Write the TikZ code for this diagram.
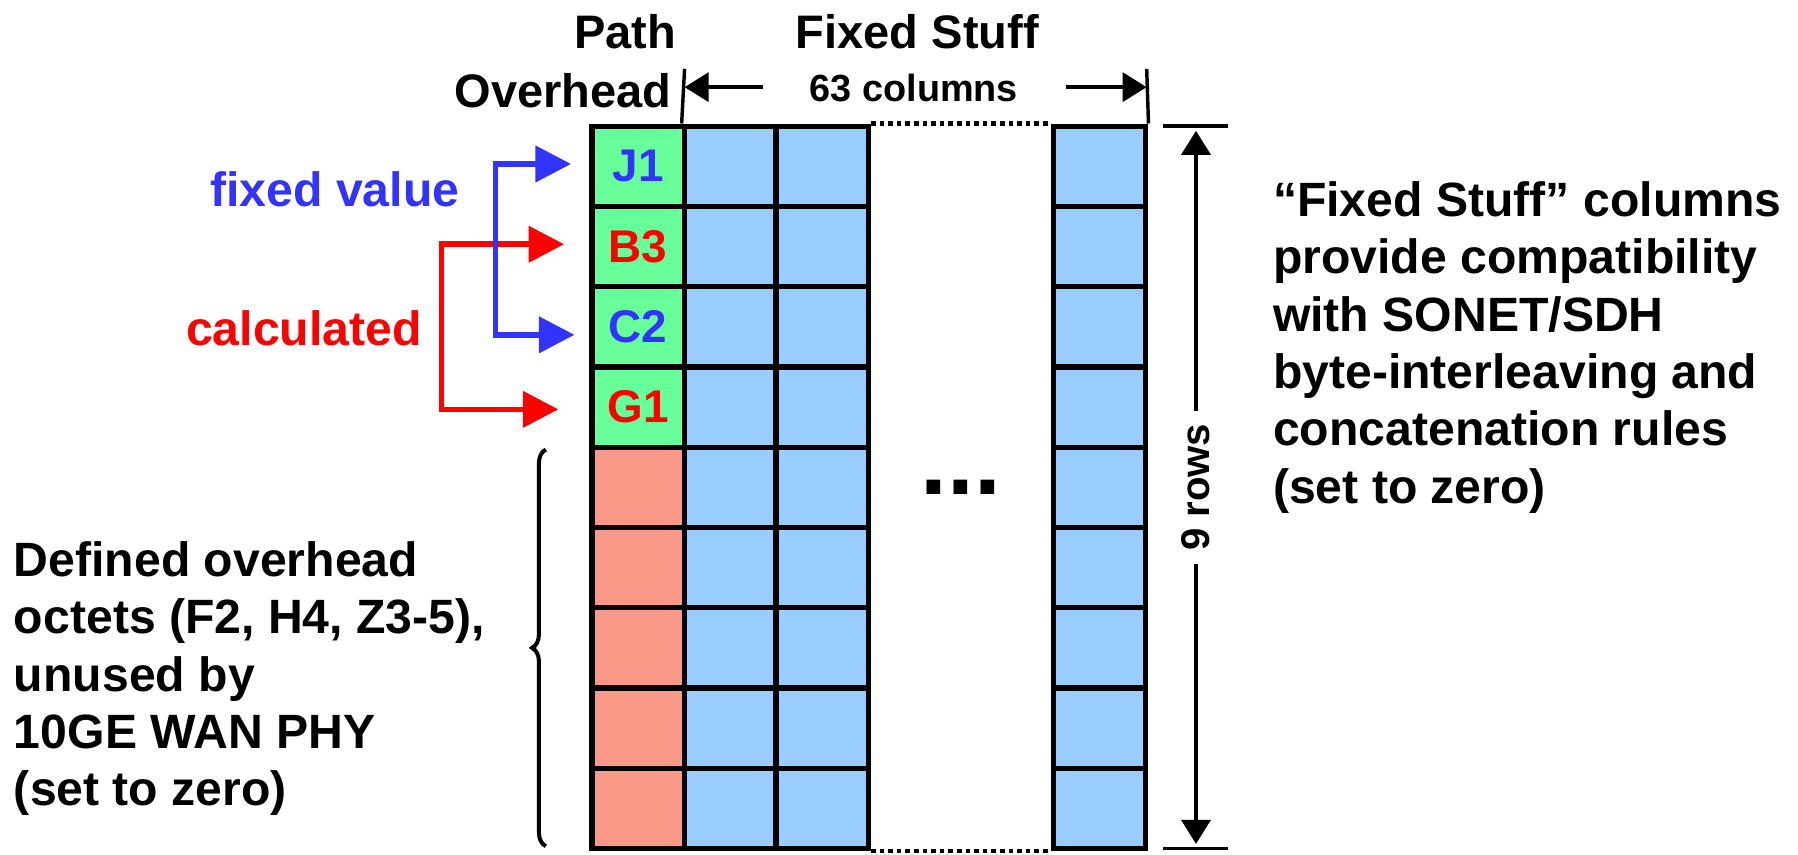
\documentclass[tikz,border=0pt]{standalone}
\usepackage{fontspec}
\setmainfont{Liberation Sans}
\usetikzlibrary{arrows.meta,decorations.pathreplacing}
\definecolor{cgreen}{HTML}{66FF99}
\definecolor{cblue}{HTML}{99CCFF}
\definecolor{csalmon}{HTML}{FA9988}
\definecolor{tblue}{HTML}{3333FF}
\definecolor{tred}{HTML}{FF0000}
\tikzset{
  cell/.style={draw=black, line width=4.6pt, minimum width=80.5pt, minimum height=70pt, inner sep=0pt,
    font=\fontsize{40}{40}\selectfont\bfseries},
  poh/.style={cell, fill=cgreen},
  undef/.style={cell, fill=csalmon},
  fs/.style={cell, fill=cblue},
  bigtxt/.style={font=\fontsize{42}{50}\selectfont\bfseries, inner sep=0pt},
  headtxt/.style={font=\fontsize{41}{50}\selectfont\bfseries, inner sep=0pt},
  smalltxt/.style={font=\fontsize{33}{33}\selectfont\bfseries, inner sep=0pt},
  selarrow/.style={line width=5pt, -{Triangle[length=31pt,width=31pt]}},
  dimarrow/.style={line width=4pt, -{Triangle[length=21pt,width=25pt]}},
  tick/.style={line width=3pt},
  dots/.style={line width=3.8pt, dash pattern=on 4pt off 3.5pt}
}
\begin{document}
\begin{tikzpicture}[x=1pt,y=-1pt]
\useasboundingbox (0,0) rectangle (1568,745);
% column centers: 556.5, 637, 717, 959 ; row centers 145 + 70(i-1)
\foreach \r in {1,...,9}{
  \pgfmathsetmacro{\yy}{145+70*(\r-1)}
  \node[fs] (b-\r) at (637,\yy) {};
  \node[fs] (c-\r) at (717,\yy) {};
  \node[fs] (d-\r) at (959,\yy) {};
}
\node[poh, text=tblue] (j1) at (556.5,145) {J1};
\node[poh, text=tred]  (b3) at (556.5,215) {B3};
\node[poh, text=tblue] (c2) at (556.5,285) {C2};
\node[poh, text=tred]  (g1) at (556.5,355) {G1};
\foreach \r in {5,...,9}{
  \pgfmathsetmacro{\yy}{145+70*(\r-1)}
  \node[undef] (a-\r) at (556.5,\yy) {};
}
% dotted lines between columns
\draw[dots] (c-1.north east) -- (d-1.north west);
\draw[dots] (c-9.south east) -- (d-9.south west);
\node[font=\fontsize{84}{84}\selectfont\bfseries, inner sep=0pt] (ell) at (838,425) {...};

% headings
\node[headtxt] (path) at (545,28) {Path};
\node[headtxt] (ovh) at (491,79) {Overhead};
\node[headtxt] (fstuff) at (800,28) {Fixed Stuff};

% top dimension
\coordinate (tl) at (597,60);
\coordinate (tr) at (1000,60);
\draw[tick] (tl) -- (b-1.north west);
\draw[tick] (tr) -- (d-1.north east);
\node[smalltxt] (cols) at (797,77) {63 columns};
\coordinate (al) at (665,76);
\coordinate (ar) at (930,76);
\draw[dimarrow] (al) -- (al -| tl);
\draw[dimarrow] (ar) -- (ar -| tr);

% right dimension
\coordinate (rt1) at (1014,110);
\coordinate (rt2) at (1071,110);
\coordinate (rb1) at (1014,740);
\coordinate (rb2) at (1071,740);
\draw[tick] (rt1) -- (rt2);
\draw[tick] (rb1) -- (rb2);
\node[font=\fontsize{35}{35}\selectfont\bfseries, inner sep=0pt, rotate=90] (rows) at (1043,425) {9 rows};
\draw[dimarrow] (rows.east) ++(0,-11) -- (1043,114);
\draw[dimarrow] (rows.west) ++(0,11) -- (1043,736);

% selector arrows
\coordinate (bv1) at (432,143);
\coordinate (bv2) at (432,292);
\coordinate (rv1) at (385,213);
\coordinate (rv2) at (385,357);
\coordinate (tj) at ([xshift=-16pt]j1.west);
\coordinate (tb) at ([xshift=-22pt]b3.west);
\coordinate (tc) at ([xshift=-13pt]c2.west);
\coordinate (tg) at ([xshift=-27pt]g1.west);
\draw[line width=5pt, tred] (rv1) -- (rv2);
\draw[selarrow, tred] ([xshift=-2.5pt]rv1) -- (rv1 -| tb);
\draw[selarrow, tred] ([xshift=-2.5pt]rv2) -- (rv2 -| tg);
\draw[selarrow, tblue] ([xshift=-2.5pt]bv1) -- (bv1 -| tj);
\draw[line width=5pt, tblue] (bv1) -- (bv2);
\draw[selarrow, tblue] ([xshift=-2.5pt]bv2) -- (bv2 -| tc);

\node[bigtxt, text=tblue] (fv) at (292,165) {fixed value};
\node[bigtxt, text=tred] (calc) at (265,286) {calculated};

% brace
\coordinate (brb) at (476,738);
\coordinate (brt) at (476,392);
\draw[line width=3.5pt, decorate, decoration={brace, amplitude=12pt}] (brb) -- (brt);

% side texts
\node[bigtxt, anchor=west, align=left] (lefttxt) at (12,592) {Defined overhead\\octets (F2, H4, Z3-5),\\unused by\\10GE WAN PHY\\(set to zero)};
\node[bigtxt, anchor=west, align=left] (righttxt) at (1110,303) {“Fixed Stuff” columns\\provide compatibility\\with SONET/SDH\\byte-interleaving and\\concatenation rules\\(set to zero)};
\end{tikzpicture}
\end{document}
